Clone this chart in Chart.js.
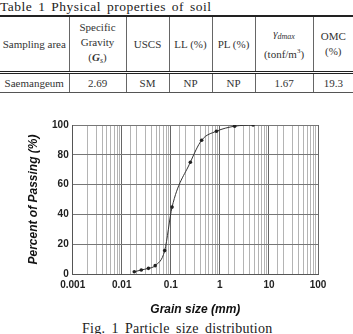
<!DOCTYPE html>
<html>
<head>
<meta charset="utf-8">
<script src="https://cdn.jsdelivr.net/npm/chart.js@4/dist/chart.umd.min.js"></script>
<style>
  html, body { margin:0; padding:0; background:#fff; }
  body { width:353px; height:334px; position:relative; overflow:hidden; }
  .ttl { position:absolute; left:0; top:-1px; font-family:"Liberation Serif","DejaVu Serif",serif; font-size:13.5px; color:#222; letter-spacing:0.5px; word-spacing:2px; white-space:nowrap; }
  table { position:absolute; left:0; top:15px; width:353px; border-collapse:collapse; table-layout:fixed;
          font-family:"Liberation Serif","DejaVu Serif",serif; font-size:11px; color:#333; }
  td { text-align:center; vertical-align:middle; padding:0; border-left:1px solid #666; line-height:15px; }
  td:first-child { border-left:none; }
  tr.h td { height:54px; border-top:2px solid #222; border-bottom:3px double #222; }
  tr.d td { height:18px; border-bottom:1px solid #555; }
  #chartwrap { position:absolute; left:0; top:110px; width:353px; height:210px; }
  .cap { position:absolute; left:82px; top:320.5px; font-family:"Liberation Serif","DejaVu Serif",serif; font-size:14px; color:#222; letter-spacing:0.25px; word-spacing:2.5px; white-space:nowrap; }
  sub { font-size:8px; vertical-align:-2px; }
</style>
</head>
<body>
<div class="ttl">Table 1 Physical properties of soil</div>
<table>
  <colgroup>
    <col style="width:69px"><col style="width:57px"><col style="width:43px"><col style="width:43px">
    <col style="width:43px"><col style="width:58px"><col style="width:40px">
  </colgroup>
  <tr class="h">
    <td>Sampling area</td>
    <td>Specific<br>Gravity<br>(<i><b>G</b></i><sub><i>s</i></sub>)</td>
    <td>USCS</td>
    <td>LL (%)</td>
    <td>PL (%)</td>
    <td><i>γ</i><sub><i>dmax</i></sub><br>(tonf/m<sup style="font-size:7px">3</sup>)</td>
    <td>OMC<br>(%)</td>
  </tr>
  <tr class="d">
    <td>Saemangeum</td><td>2.69</td><td>SM</td><td>NP</td><td>NP</td><td>1.67</td><td>19.3</td>
  </tr>
</table>

<div id="chartwrap"><canvas id="c" width="353" height="210"></canvas></div>
<div class="cap">Fig. 1 Particle size distribution</div>

<script>
// Data
const grainSize      = [0.018, 0.025, 0.035, 0.048, 0.075, 0.106, 0.25, 0.425, 0.85, 2.0, 4.75];
const percentPassing = [1.5,   2.7,   3.8,   5.6,   15.7,  44.9,  75.0, 89.8,  95.8, 99.2, 100];
const xTickLabels    = ['0.001', '0.01', '0.1', '1', '10', '100'];
const yTickLabels    = ['0', '20', '40', '60', '80', '100'];
const xTitle = 'Grain size (mm)';
const yTitle = 'Percent of Passing (%)';

const points = grainSize.map((g, i) => ({ x: g, y: percentPassing[i] }));
const isMajor = v => xTickLabels.some(l => Math.abs(parseFloat(l) - v) < 1e-9 * Math.max(1, v));
const tickFont = { family: '"Liberation Sans", Arial, sans-serif', size: 10, weight: 'bold' };
const titleFont = { family: '"Liberation Sans", Arial, sans-serif', size: 12, weight: 'bold', style: 'italic' };

new Chart(document.getElementById('c'), {
  type: 'line',
  data: {
    datasets: [{
      data: points,
      borderColor: '#333',
      borderWidth: 1,
      pointRadius: 1.8,
      pointBackgroundColor: '#222',
      pointBorderColor: '#222',
      pointBorderWidth: 0,
      cubicInterpolationMode: 'monotone',
      fill: false
    }]
  },
  options: {
    responsive: false,
    animation: false,
    devicePixelRatio: 1,
    layout: { padding: { left: 0, right: 35, top: 15, bottom: 0 } },
    plugins: { legend: { display: false }, tooltip: { enabled: false } },
    scales: {
      x: {
        type: 'logarithmic',
        min: 0.001,
        max: 100,
        afterFit: s => { s.height = 46; },
        border: { color: '#555', width: 1 },
        grid: {
          drawTicks: false,
          color: ctx => (ctx.tick && isMajor(ctx.tick.value)) ? '#666' : '#b4b4b4',
          lineWidth: 1
        },
        ticks: {
          autoSkip: false,
          maxRotation: 0,
          padding: 5,
          color: '#222',
          font: tickFont,
          callback: function (v) {
            const l = xTickLabels.find(t => Math.abs(parseFloat(t) - v) < 1e-9 * Math.max(1, v));
            return l === undefined ? '' : l;
          }
        },
        title: { display: true, text: xTitle, color: '#111', font: titleFont, padding: { top: 0, bottom: 3.5 } }
      },
      y: {
        min: 0,
        max: 100,
        afterFit: s => { s.width = 72.7; },
        border: { color: '#555', width: 1 },
        grid: { drawTicks: false, color: '#777', lineWidth: 1 },
        ticks: {
          stepSize: 20,
          padding: 4,
          color: '#222',
          font: tickFont,
          callback: v => yTickLabels.includes(String(v)) ? String(v) : ''
        },
        title: { display: true, text: yTitle, color: '#111', font: titleFont, padding: { top: 26, bottom: 0 } }
      }
    }
  }
});
</script>
</body>
</html>
